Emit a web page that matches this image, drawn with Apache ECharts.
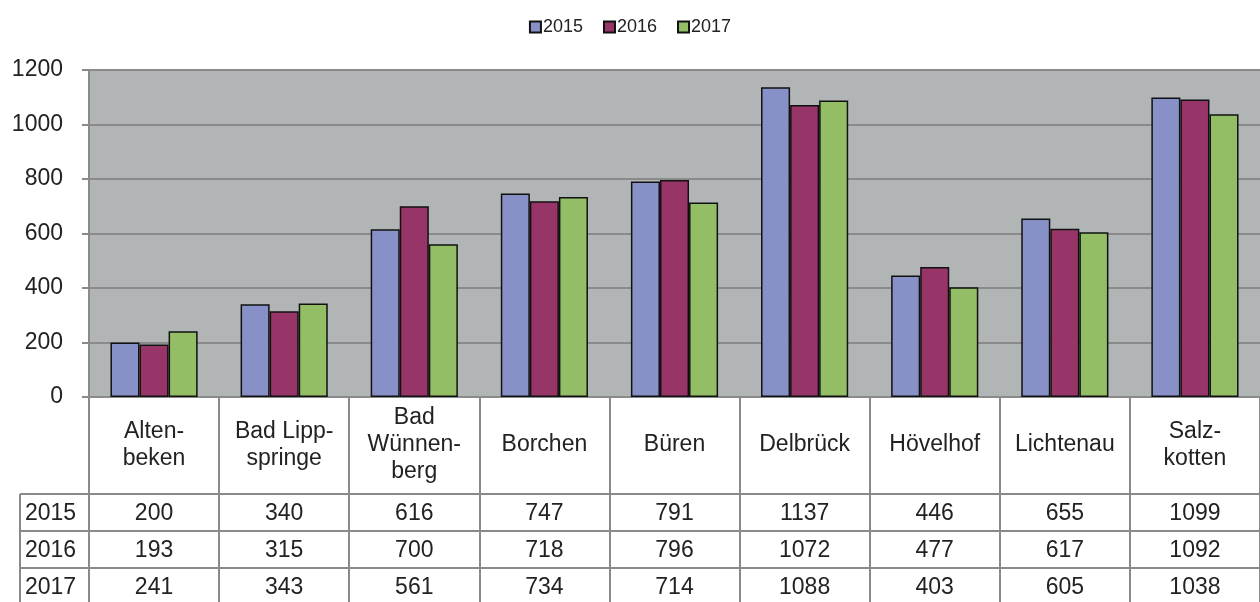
<!DOCTYPE html>
<html>
<head>
<meta charset="utf-8">
<script src="https://cdn.jsdelivr.net/npm/echarts@6/dist/echarts.min.js"></script>
<style>
  html, body { margin: 0; padding: 0; background: #fff; }
  #chart { width: 1260px; height: 602px; }
</style>
</head>
<body>
<div id="chart"></div>
<script>
const categories = ['Alten-\nbeken', 'Bad Lipp-\nspringe', 'Bad\nWünnen-\nberg', 'Borchen', 'Büren',
  'Delbrück', 'Hövelhof', 'Lichtenau', 'Salz-\nkotten']
const years = ['2015', '2016', '2017']
const values2015 = [200, 340, 616, 747, 791, 1137, 446, 655, 1099]
const values2016 = [193, 315, 700, 718, 796, 1072, 477, 617, 1092]
const values2017 = [241, 343, 561, 734, 714, 1088, 403, 605, 1038]
const yTicks = [0, 200, 400, 600, 800, 1000, 1200]
const colors = ['#8890c8', '#983568', '#93be66']

const el = document.getElementById('chart')
const chart = echarts.init(el)
const font = 'Liberation Sans, Arial, sans-serif'
const lineColor = '#8a8a8a'
const gridBottom = 205
const rowTop = [494, 531, 568]
const rowH = 37

const seriesData = [values2015, values2016, values2017]

chart.setOption({
  animation: false,
  textStyle: {fontFamily: font},
  legend: {
    top: 13,
    left: 'center',
    icon: 'rect',
    itemWidth: 11,
    itemHeight: 11,
    itemGap: 20,
    textStyle: {fontSize: 18, color: '#222', padding: [0, 0, 0, -3]},
    data: years
  },
  grid: {left: 89, right: 0, top: 70, bottom: gridBottom, backgroundColor: '#b2b5b6', show: true, borderWidth: 0},
  xAxis: {
    type: 'category',
    data: categories,
    axisLine: {show: true, lineStyle: {color: lineColor, width: 2}},
    axisTick: {show: true, length: gridBottom, lineStyle: {color: lineColor, width: 2}},
    axisLabel: {
      fontSize: 23, color: '#222', margin: 48, verticalAlign: 'middle', lineHeight: 27,
      interval: 0
    }
  },
  yAxis: {
    type: 'value',
    min: yTicks[0],
    max: yTicks[yTicks.length - 1],
    interval: yTicks[1] - yTicks[0],
    axisLine: {show: true, lineStyle: {color: lineColor, width: 2}},
    axisTick: {show: true, length: 7, lineStyle: {color: lineColor, width: 2}},
    axisLabel: {fontSize: 23, color: '#222', margin: 26, formatter: v => String(v)},
    splitLine: {lineStyle: {color: lineColor, width: 2}}
  },
  series: years.map((y, i) => ({
    name: y,
    type: 'bar',
    data: seriesData[i],
    barGap: '0%',
    barCategoryGap: '33%',
    itemStyle: {color: colors[i], borderColor: '#111', borderWidth: 1.5}
  }))
})

// data table below the chart, positioned from the category axis
const graphics = []
const leftTable = 20
rowTop.forEach((top) => {
  graphics.push({
    type: 'line', shape: {x1: leftTable, y1: top, x2: 1260, y2: top},
    style: {stroke: lineColor, lineWidth: 2}
  })
})
graphics.push({
  type: 'line', shape: {x1: leftTable, y1: rowTop[0], x2: leftTable, y2: 602},
  style: {stroke: lineColor, lineWidth: 2}
})
years.forEach((y, r) => {
  const cy = rowTop[r] + rowH / 2 + 1
  graphics.push({
    type: 'text', x: leftTable + 5, y: cy,
    style: {text: y, font: '23px ' + font, fill: '#222', verticalAlign: 'middle', align: 'left'}
  })
  seriesData[r].forEach((v, c) => {
    graphics.push({
      type: 'text', x: chart.convertToPixel({xAxisIndex: 0}, c), y: cy,
      style: {text: String(v), font: '23px ' + font, fill: '#222', verticalAlign: 'middle', align: 'center'}
    })
  })
})
chart.setOption({graphic: graphics})
</script>
</body>
</html>
